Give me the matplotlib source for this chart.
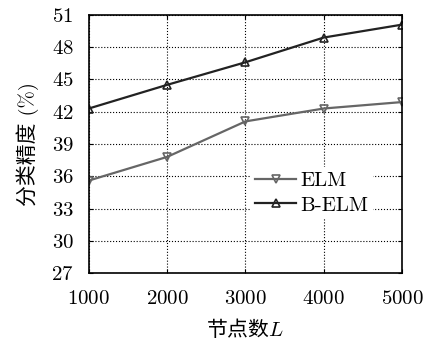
import matplotlib
matplotlib.use("Agg")
import matplotlib.pyplot as plt

# Data
nodes = [1000, 2000, 3000, 4000, 5000]
elm_acc = [35.6, 37.8, 41.1, 42.3, 42.9]
belm_acc = [42.3, 44.5, 46.6, 48.9, 50.1]
yticks = [27, 30, 33, 36, 39, 42, 45, 48, 51]

plt.rcParams['font.family'] = ['cmr10', 'Noto Sans CJK SC']
plt.rcParams['mathtext.fontset'] = 'cm'
plt.rcParams['axes.formatter.use_mathtext'] = True

fig = plt.figure(figsize=(4.25, 3.4), dpi=100)
ax = fig.add_axes([0.209, 0.197, 0.737, 0.759])

ax.plot(nodes, elm_acc, color='#666666', linewidth=1.6, marker='v',
        markersize=6, markerfacecolor='none', markeredgewidth=1.2, label='ELM')
ax.plot(nodes, belm_acc, color='#222222', linewidth=1.6, marker='^',
        markersize=6, markerfacecolor='none', markeredgewidth=1.2, label='B-ELM')

ax.set_xlim(1000, 5000)
ax.set_ylim(27, 51)
ax.set_xticks(nodes)
ax.set_yticks(yticks)
ax.grid(True, linestyle=':', color='black', linewidth=0.8)
ax.tick_params(direction='in', top=True, right=True, labelsize=15, length=3)
ax.tick_params(axis='x', pad=12)
ax.tick_params(axis='y', pad=11)
for s in ax.spines.values():
    s.set_linewidth(1.2)

ax.set_xlabel('节点数$L$', fontsize=15, family='Noto Sans CJK SC', labelpad=7)
ax.set_ylabel('分类精度 (%)', fontsize=15, family=['cmr10', 'Noto Sans CJK SC'],
              labelpad=9)

leg = ax.legend(loc='center right', bbox_to_anchor=(0.92, 0.31), fontsize=15,
                frameon=True, numpoints=1, handlelength=2.0, borderpad=0.2,
                labelspacing=0.3, handletextpad=0.2, borderaxespad=0.2)
leg.get_frame().set_edgecolor('none')
leg.get_frame().set_facecolor('white')
leg.get_frame().set_alpha(1.0)

fig.savefig('out.png', dpi=100)
